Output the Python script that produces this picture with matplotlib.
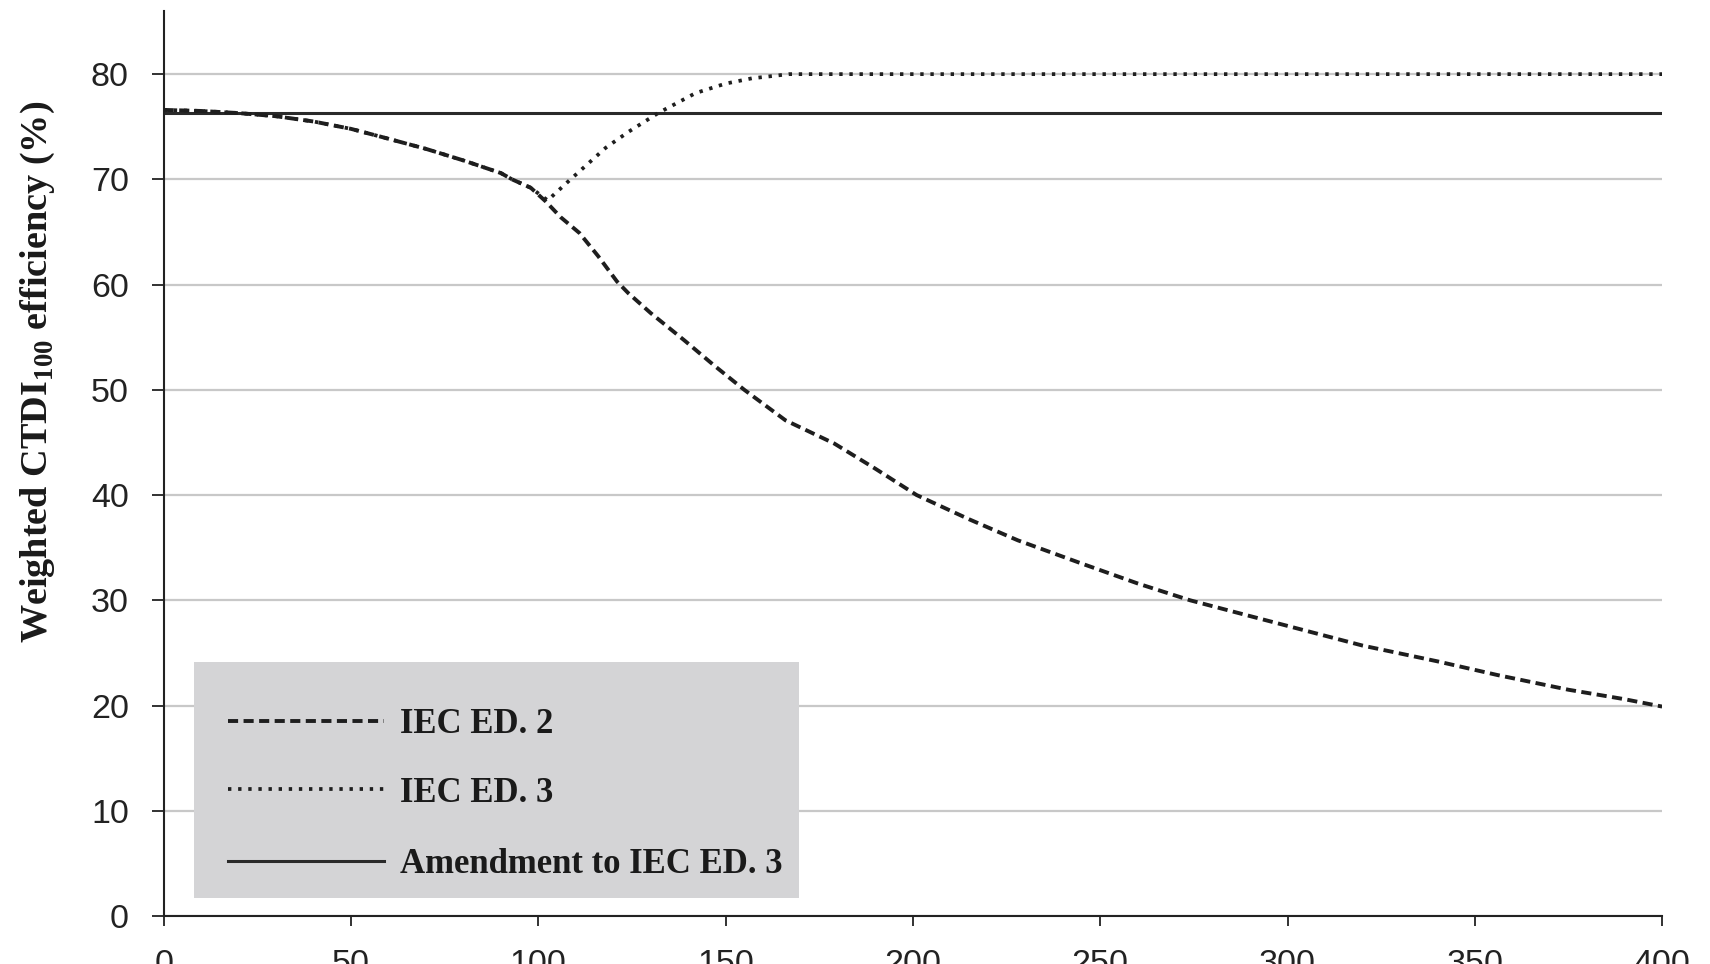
import matplotlib.pyplot as plt
from matplotlib.lines import Line2D
from matplotlib.patches import Rectangle

plt.rcParams['font.family'] = ['Liberation Sans', 'DejaVu Sans']
plt.rcParams['mathtext.fontset'] = 'custom'
plt.rcParams['mathtext.rm'] = 'Liberation Serif'
plt.rcParams['mathtext.bf'] = 'Liberation Serif:bold'

# IEC ED. 2 (dashed)
ed2_x = [0, 10, 20, 30, 40, 50, 58, 70, 80, 85, 90, 93, 98, 102, 106, 111, 116, 121, 124, 130, 139,
         147, 155, 166, 179, 190, 201, 215, 228, 245, 260, 274, 290, 305, 320, 340, 356, 375, 390, 400]
ed2_y = [76.6, 76.5, 76.3, 76.0, 75.5, 74.8, 74.05, 72.9, 71.8, 71.2, 70.6, 70.0, 69.2, 67.9, 66.4, 64.9,
         62.7, 60.3, 59.2, 57.3, 54.7, 52.3, 50.0, 47.1, 44.9, 42.5, 40.0, 37.7, 35.7, 33.5, 31.6, 30.0,
         28.5, 27.1, 25.7, 24.2, 22.9, 21.5, 20.6, 19.9]

# IEC ED. 3 (dotted)
ed3_x = [0, 10, 20, 30, 40, 50, 58, 70, 80, 85, 90, 93, 98, 102.5, 108, 113, 118, 124, 132, 142, 150,
         157, 167, 200, 300, 400]
ed3_y = [76.6, 76.5, 76.3, 76.0, 75.5, 74.8, 74.05, 72.9, 71.8, 71.2, 70.6, 70.0, 69.2, 68.0, 69.8, 71.4,
         73.0, 74.5, 76.3, 78.2, 79.1, 79.6, 80.0, 80.0, 80.0, 80.0]

# Amendment to IEC ED. 3 (solid)
amd_x = [0, 400]
amd_y = [76.3, 76.3]

labels = ['IEC ED. 2', 'IEC ED. 3', 'Amendment to IEC ED. 3']
xticks = list(range(0, 401, 50))
yticks = list(range(0, 81, 10))

styles = [
    dict(color='#1e1e1e', lw=2.8, dashes=(2.6, 1.4)),
    dict(color='#1e1e1e', lw=2.7, dashes=(0.9, 1.8)),
    dict(color='#2a2a2a', lw=2.2),
]

fig = plt.figure(figsize=(17.1, 9.64), dpi=100)
ax = fig.add_axes([0.0957, 0.0498, 0.8763, 0.9388])

ax.plot(amd_x, amd_y, zorder=2, **styles[2])
ax.plot(ed2_x, ed2_y, zorder=3, **styles[0])
ax.plot(ed3_x, ed3_y, zorder=4, **styles[1])

ax.set_xlim(0, 400)
ax.set_ylim(0, 86)
ax.set_xticks(xticks)
ax.set_yticks(yticks)
ax.set_axisbelow(True)
ax.yaxis.grid(True, color='#c8c8c8', lw=1.6)

for s in ['top', 'right']:
    ax.spines[s].set_visible(False)
for s in ['left', 'bottom']:
    ax.spines[s].set_linewidth(1.5)
    ax.spines[s].set_color('#222222')

ax.tick_params(axis='y', length=8.6, width=1.3, pad=16.5, labelsize=24.5, colors='#222222')
ax.tick_params(axis='x', length=7, width=1.3, pad=17, labelsize=24.5, colors='#222222')

ax.text(-0.0838, 0.601, 'Weighted CTDI$_{\\mathbf{100}}$ efficiency (%)', transform=ax.transAxes,
        rotation=90, ha='center', va='center', fontsize=27.5, family='Liberation Serif',
        weight='bold', color='#1a1a1a')

# legend box drawn by hand so the rows sit where the original has them
ax.add_patch(Rectangle((0.0203, 0.0199), 0.4037, 0.2611, transform=ax.transAxes,
                       facecolor='#d4d4d6', edgecolor='none', zorder=5))
rows = [0.2158, 0.1403, 0.0611]
for lab, st, yr in zip(labels, styles, rows):
    ax.add_artist(Line2D([0.043, 0.147], [yr, yr], transform=ax.transAxes, zorder=6, **st))
    ax.text(0.1578, yr, lab, transform=ax.transAxes, ha='left', va='center_baseline',
            fontsize=25, family='Liberation Serif', weight='bold', color='#1a1a1a', zorder=6)

fig.savefig('out.png', dpi=100)
